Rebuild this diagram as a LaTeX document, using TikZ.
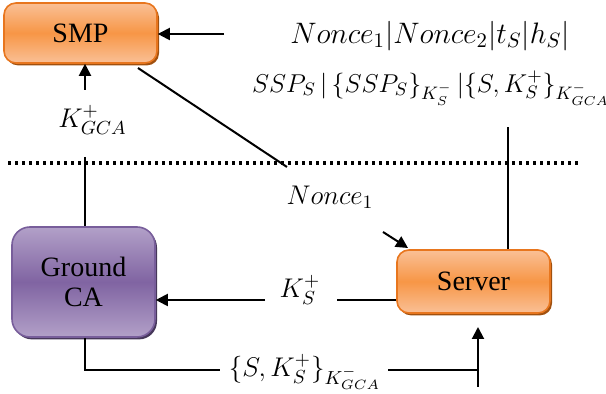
\RequirePackage{fix-cm}
\documentclass[tikz,border=0pt]{standalone}
\usepackage{fontspec}
\newfontfamily\boxfont{Liberation Serif}
\usetikzlibrary{arrows.meta,shadows}
\definecolor{orMid}{RGB}{247,150,70}
\definecolor{orLight}{RGB}{250,192,150}
\definecolor{orEdge}{RGB}{232,118,30}
\definecolor{orShadow}{RGB}{160,80,15}
\definecolor{puMid}{RGB}{128,100,162}
\definecolor{puLight}{RGB}{178,160,200}
\definecolor{puEdge}{RGB}{120,94,155}
\definecolor{puShadow}{RGB}{70,55,90}
\begin{document}
\begin{tikzpicture}[x=0.5pt,y=-0.5pt,
  conn/.style={line width=1pt},
  arr/.style={line width=1pt,-{Triangle[length=6pt,width=6pt]}},
  lbl/.style={inner sep=0pt,font=\fontsize{13.5}{16}\selectfont},
  orangebox/.style={rounded corners=6pt,draw=orEdge,line width=0.8pt,
    top color=orLight,bottom color=orLight,middle color=orMid,
    font=\boxfont\fontsize{14}{16}\selectfont,
    general shadow={shadow xshift=1pt,shadow yshift=-1.2pt,fill=orShadow}},
  purplebox/.style={rounded corners=9pt,draw=puEdge,line width=0.8pt,
    top color=puLight,bottom color=puLight,middle color=puMid,
    font=\boxfont\fontsize{14}{15}\selectfont,align=center,
    general shadow={shadow xshift=1pt,shadow yshift=-1.2pt,fill=puShadow}}]
\useasboundingbox (0,0) rectangle (606,394);
\node[orangebox,minimum width=76.5pt,minimum height=30pt] (smp) at (80.5,33) {SMP};
\node[purplebox,minimum width=71.5pt,minimum height=55pt] (gca) at (83.5,282) {Ground\\CA};
\node[orangebox,minimum width=76.5pt,minimum height=31.5pt] (srv) at (473.5,281.5) {Server};

\node[lbl,font=\fontsize{14.8}{17}\selectfont] (m1) at (430,36) {$Nonce_1|Nonce_2|t_S|h_S|$};
\node[lbl,font=\fontsize{12.9}{15}\selectfont] (m2) at (431,88) {$SSP_S\,|\,\{SSP_S\}_{K_S^-}\,|\{S,K_S^+\}_{K_{GCA}^-}$};
\node[lbl] (kgca) at (92.5,120) {$K_{GCA}^+$};
\node[lbl] (n1) at (330,197) {$Nonce_1$};
\node[lbl] (ks) at (300,290) {$K_S^+$};
\node[lbl] (sig) at (305,372) {$\{S,K_S^+\}_{K_{GCA}^-}$};

\coordinate (t1) at (224,34);
\coordinate (a1) at (85,90);
\coordinate (a2) at (85,157);
\coordinate (d1) at (138,68);
\coordinate (d2) at (287,167);
\coordinate (v1) at (508,127);
\coordinate (n1a) at (383,232);
\coordinate (n1b) at (408,248);
\coordinate (k1) at (265,300);
\coordinate (k2) at (337,300);
\coordinate (b1) at (85,370);
\coordinate (b2) at (220,370);
\coordinate (b3) at (388,370);
\coordinate (b4) at (478,370);
\coordinate (b5) at (478,387);
\coordinate (b6) at (478,327);

\draw[line width=1.6pt,dash pattern=on 1.6pt off 1.9pt] (8,163) -- (580,163);

\draw[arr] (t1) -- (smp.east |- t1);
\draw[arr] (a1) -- (smp.south -| a1);
\draw[conn] (a2) -- (gca.north -| a2);
\draw[conn] (d1) -- (d2);
\draw[conn] (srv.north -| v1) -- (v1);
\draw[arr] (n1a) -- (n1b);
\draw[arr] (k1) -- (gca.east |- k1);
\draw[conn] (srv.west |- k2) -- (k2);
\draw[conn] (gca.south -| b1) -- (b1) -- (b2);
\draw[conn] (b3) -- (b4);
\draw[arr] (b5) -- (b6);
\end{tikzpicture}
\end{document}
